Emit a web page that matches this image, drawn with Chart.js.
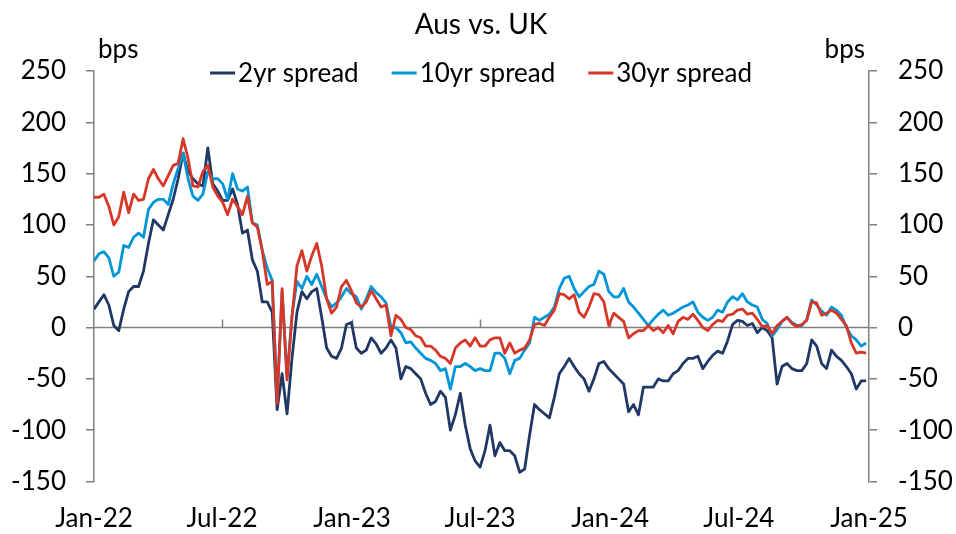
<!DOCTYPE html>
<html>
<head>
<meta charset="utf-8">
<title>Aus vs. UK</title>
<script src="https://cdn.jsdelivr.net/npm/chart.js@4.4.1/dist/chart.umd.min.js"></script>
<style>
  html, body { margin: 0; padding: 0; background: #fff; }
  canvas { display: block; }
</style>
</head>
<body>
<canvas id="mainChart" width="956" height="534"></canvas>
<script>
// Weekly readings (bps), first week of Jan-22 onwards
const spread2y = [18, 25, 32, 22, 2, -3, 18, 35, 40, 40, 55, 82, 105, 100, 95, 110, 125, 145, 170, 152, 145, 140, 138, 175, 140, 133, 124, 124,
  135, 120, 92, 95, 66, 55, 25, 25, 15, -80, -45, -84, -30, 15, 35, 28, 35, 38, 10, -20, -28, -30, -20, 3, 5, -20,
  -25, -22, -10, -16, -25, -20, -12, -20, -50, -38, -40, -45, -50, -64, -75, -72, -62, -68, -100, -85, -64, -95, -118, -130, -136, -120,
  -95, -125, -112, -120, -120, -125, -141, -138, -105, -75, -80, -84, -88, -68, -45, -38, -30, -38, -45, -50, -62, -50, -35, -33, -40, -45,
  -50, -55, -82, -75, -85, -58, -58, -58, -50, -52, -52, -45, -42, -35, -30, -30, -28, -40, -33, -27, -23, -25, -13, 3, 7, 6,
  2, 4, -5, 0, -3, -10, -55, -38, -35, -40, -42, -42, -35, -12, -18, -35, -40, -22, -28, -32, -38, -45, -60, -52, -52];

const spread10y = [65, 72, 74, 68, 50, 54, 80, 78, 88, 92, 88, 115, 122, 125, 125, 120, 140, 155, 170, 145, 128, 124, 130, 152, 145, 145, 140, 125,
  150, 135, 133, 137, 102, 100, 75, 58, 46, -70, 35, -48, 12, 45, 38, 50, 42, 52, 40, 28, 20, 24, 30, 38, 33, 30,
  18, 28, 40, 34, 30, 24, 0, 0, -5, -15, -14, -20, -25, -30, -32, -35, -42, -40, -60, -38, -38, -35, -38, -42, -40, -42,
  -42, -25, -25, -30, -45, -32, -30, -22, -15, 10, 7, 10, 13, 20, 38, 48, 50, 38, 30, 35, 40, 42, 55, 52, 35, 30,
  30, 38, 25, 20, 14, 8, 2, 8, 13, 17, 12, 14, 17, 20, 22, 25, 15, 10, 7, 10, 17, 15, 25, 30, 27, 33,
  25, 22, 20, 8, 4, -8, -2, 6, 10, 5, 2, 2, 8, 27, 22, 16, 12, 20, 17, 12, 0, -8, -12, -18, -15];

const spread30y = [127, 127, 130, 118, 100, 108, 132, 112, 130, 124, 125, 145, 154, 145, 138, 148, 158, 160, 184, 165, 138, 137, 152, 158, 137, 128, 122, 110,
  125, 118, 110, 128, 102, 98, 75, 42, 45, -74, 38, -51, 10, 60, 75, 55, 70, 82, 60, 28, 14, 20, 40, 46, 36, 24,
  20, 25, 36, 28, 20, 22, -8, 12, 8, 0, -2, -8, -10, -18, -18, -22, -28, -30, -35, -20, -15, -12, -18, -10, -18, -18,
  -12, -10, -10, -25, -15, -25, -22, -20, -12, 3, 4, 2, 10, 17, 33, 32, 28, 32, 15, 10, 20, 33, 32, 25, 2, 14,
  10, 6, -10, -6, -3, -3, 2, -3, 0, -5, 2, -6, 6, 10, 8, 13, 7, 0, -3, 3, 7, 6, 12, 13, 17, 18,
  13, 14, 8, 1, 2, -6, 2, 6, 10, 4, 1, 3, 7, 25, 24, 12, 14, 17, 14, 8, 2, -15, -25, -24, -25];

// x axis: days since 1 Jan 2022
const tickDays = [0, 181, 365, 546, 730, 912, 1096];
const tickLabels = ["Jan-22", "Jul-22", "Jan-23", "Jul-23", "Jan-24", "Jul-24", "Jan-25"];
const yTicks = [-150, -100, -50, 0, 50, 100, 150, 200, 250];

const FONT = "Lato";
const AXIS = "#808080";

function weekly(values) {
  return values.map((v, i) => ({ x: i * 7, y: v }));
}

// zero line, title, bps labels and legend
const decor = {
  id: "decor",
  beforeDatasetsDraw(chart) {
    const { ctx, chartArea, scales } = chart;
    const y0 = scales.y.getPixelForValue(0);
    ctx.save();
    ctx.strokeStyle = AXIS;
    ctx.lineWidth = 1.5;
    ctx.beginPath();
    ctx.moveTo(chartArea.left, y0);
    ctx.lineTo(chartArea.right, y0);
    tickDays.slice(1, -1).forEach(d => {
      const x = Math.round(scales.x.getPixelForValue(d)) + 0.5;
      ctx.moveTo(x, y0);
      ctx.lineTo(x, y0 - 8);
    });
    ctx.stroke();
    ctx.restore();
  },
  afterDraw(chart) {
    const { ctx, chartArea } = chart;
    ctx.save();
    ctx.fillStyle = "#000";
    ctx.textBaseline = "alphabetic";

    ctx.font = "28px " + FONT;
    ctx.textAlign = "center";
    ctx.fillText("Aus vs. UK", 481, 34);

    ctx.font = "26px " + FONT;
    ctx.textAlign = "left";
    ctx.fillText("bps", chartArea.left + 4, 58);
    ctx.textAlign = "right";
    ctx.fillText("bps", chartArea.right - 4, 58);

    // legend
    const ds = chart.data.datasets;
    const widths = ds.map(d => ctx.measureText(d.label).width);
    const total = widths.reduce((a, w) => a + 28 + w, 0) + 33 * (ds.length - 1);
    let x = 481 - total / 2;
    ctx.textAlign = "left";
    ds.forEach((d, i) => {
      ctx.fillStyle = d.borderColor;
      ctx.fillRect(x, 71.5, 25, 3);
      ctx.fillStyle = "#000";
      ctx.fillText(d.label, x + 28, 82);
      x += 28 + widths[i] + 33;
    });
    ctx.restore();
  }
};

const yScale = (position, padding, width) => ({
  type: "linear",
  position: position,
  min: -150,
  max: 250,
  afterBuildTicks: s => { s.ticks = yTicks.map(v => ({ value: v })); },
  afterFit: s => { s.width = width; },
  border: { display: true, color: AXIS, width: 1.5 },
  grid: { drawOnChartArea: false, drawTicks: true, tickLength: 8, color: AXIS, lineWidth: 1.5 },
  ticks: { font: { family: FONT, size: 26 }, color: "#000", padding: padding }
});

new Chart(document.getElementById("mainChart"), {
  type: "line",
  data: {
    datasets: [
      { label: "2yr spread", data: weekly(spread2y), borderColor: "#1F3864", order: 2 },
      { label: "10yr spread", data: weekly(spread10y), borderColor: "#0096D6", order: 1 },
      { label: "30yr spread", data: weekly(spread30y), borderColor: "#D73728", order: 0 }
    ]
  },
  options: {
    responsive: false,
    animation: false,
    devicePixelRatio: 1,
    layout: { padding: { top: 71, left: 0, right: 0, bottom: 0 } },
    elements: {
      line: { borderWidth: 2.8, tension: 0, borderJoinStyle: "round" },
      point: { radius: 0 }
    },
    plugins: {
      legend: { display: false },
      title: { display: false },
      tooltip: { enabled: false }
    },
    scales: {
      x: {
        type: "linear",
        min: 0,
        max: 1096,
        afterBuildTicks: s => { s.ticks = tickDays.map(v => ({ value: v })); },
        afterFit: s => { s.height = 52.5; },
        border: { display: false },
        grid: { display: false, drawTicks: false },
        ticks: {
          autoSkip: false,
          maxRotation: 0,
          padding: 22,
          font: { family: FONT, size: 26 },
          color: "#000",
          callback: (v, i) => tickLabels[i]
        }
      },
      y: yScale("left", 20, 94),
      y2: yScale("right", 21, 87)
    }
  },
  plugins: [decor]
});
</script>
</body>
</html>
